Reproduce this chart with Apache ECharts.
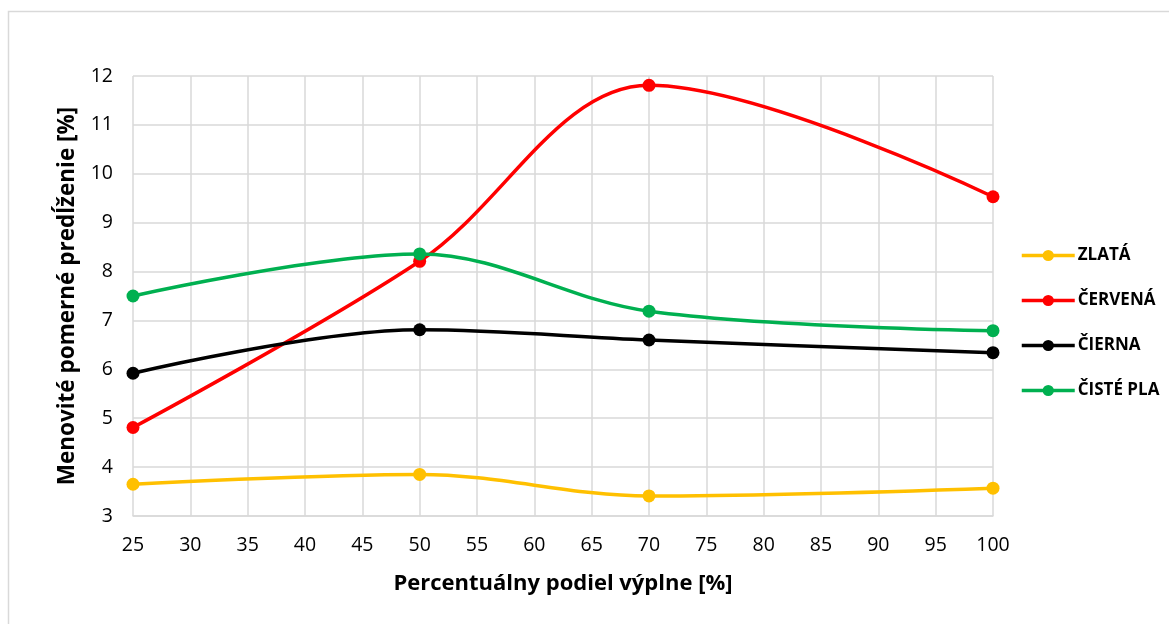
<!DOCTYPE html>
<html><head><meta charset="utf-8">
<script src="https://cdn.jsdelivr.net/npm/echarts@6/dist/echarts.min.js"></script>
<style>html,body{margin:0;padding:0;background:#fff}#c{width:1169px;height:624px}</style>
</head><body><div id="c"></div>
<script>
const xValues = [25, 50, 70, 100];
const seriesNames = ['ZLATÁ', 'ČERVENÁ', 'ČIERNA', 'ČISTÉ PLA'];
const zlata = [3.65, 3.85, 3.41, 3.57];
const cervena = [4.81, 8.21, 11.81, 9.53];
const cierna = [5.92, 6.81, 6.60, 6.34];
const cistePla = [7.50, 8.36, 7.19, 6.79];
const colors = ['#FFC000', '#FF0000', '#000000', '#00B050'];
const allValues = [zlata, cervena, cierna, cistePla];

const font = 'Open Sans, Noto Sans, sans-serif';
const chart = echarts.init(document.getElementById('c'));
chart.setOption({
  animation: false,
  graphic: [{type: 'rect', shape: {x: 8.5, y: 11.5, width: 1200, height: 700}, style: {fill: 'none', stroke: '#d9d9d9', lineWidth: 1.5}, silent: true}],
  grid: {left: 133, right: 176, top: 76, bottom: 108},
  legend: {
    orient: 'vertical', left: 1015, top: 242, itemWidth: 53, itemHeight: 14, itemGap: 28,
    data: seriesNames,
    lineStyle: {width: 3.5},
    textStyle: {fontFamily: font, fontWeight: 'bold', fontSize: 17, color: '#000', padding: [0,0,0,-2]}
  },
  xAxis: {
    type: 'value', min: 25, max: 100, interval: 5,
    name: 'Percentuálny podiel výplne [%]', nameLocation: 'middle', nameGap: 57,
    nameTextStyle: {fontFamily: font, fontWeight: 'bold', fontSize: 22, color: '#000'},
    axisLine: {show: true, lineStyle: {color: '#d9d9d9', width: 1.5}},
    axisTick: {show: false},
    axisLabel: {fontFamily: font, fontSize: 19.5, color: '#000', margin: 19},
    splitLine: {show: true, lineStyle: {color: '#d9d9d9', width: 1.5}}
  },
  yAxis: {
    type: 'value', min: 3, max: 12, interval: 1,
    name: 'Menovité pomerné predĺženie [%]', nameLocation: 'middle', nameGap: 54,
    nameTextStyle: {fontFamily: font, fontWeight: 'bold', fontSize: 22.5, color: '#000'},
    axisLine: {show: false},
    axisTick: {show: false},
    axisLabel: {fontFamily: font, fontSize: 19.5, color: '#000', margin: 20},
    splitLine: {show: true, lineStyle: {color: '#d9d9d9', width: 1.5}}
  },
  series: seriesNames.map((n, i) => ({
    name: n, type: 'line', smooth: 0.35,
    data: xValues.map((x, j) => [x, allValues[i][j]]),
    symbol: 'circle', symbolSize: 13,
    lineStyle: {color: colors[i], width: 3.5},
    itemStyle: {color: colors[i]}
  }))
});
</script></body></html>
